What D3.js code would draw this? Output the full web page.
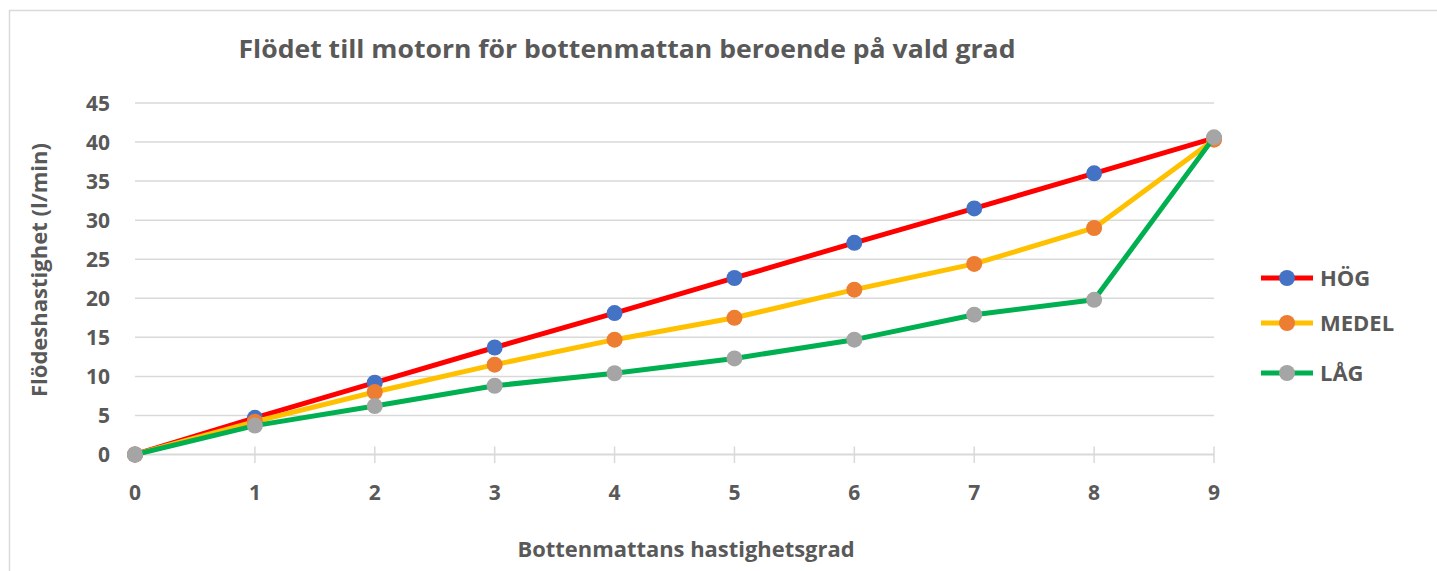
<!DOCTYPE html>
<html>
<head>
<meta charset="utf-8">
<script src="https://cdn.jsdelivr.net/npm/d3@7.9.0/dist/d3.min.js"></script>
<style>
  html, body { margin: 0; padding: 0; background: #fff; }
  svg text { font-family: "Open Sans", "DejaVu Sans", sans-serif; font-weight: 700; fill: #595959; }
</style>
</head>
<body>
<svg id="chart" width="1437" height="571"></svg>
<script>
// x categories (speed grade) and y ticks
const grades = [0, 1, 2, 3, 4, 5, 6, 7, 8, 9];
const yTicks = [0, 5, 10, 15, 20, 25, 30, 35, 40, 45];

// flow per grade (l/min)
const hog   = [0, 4.7, 9.2, 13.7, 18.1, 22.6, 27.1, 31.5, 36.0, 40.5];
const medel = [0, 4.2, 8.0, 11.5, 14.7, 17.5, 21.1, 24.4, 29.0, 40.3];
const lag   = [0, 3.7, 6.2, 8.8, 10.4, 12.3, 14.7, 17.9, 19.8, 40.6];

const seriesNames = ['HÖG', 'MEDEL', 'LÅG'];
const lineColors = ['#ff0000', '#ffc000', '#00b050'];
const markerColors = ['#4472c4', '#ed7d31', '#a5a5a5'];

const series = [hog, medel, lag].map((vals, i) => ({
    name: seriesNames[i],
    line: lineColors[i],
    marker: markerColors[i],
    values: vals.map((v, j) => ({ x: grades[j], y: v }))
}));

const svg = d3.select('#chart');

// outer chart border (Excel style)
svg.append('rect')
    .attr('x', 9.5).attr('y', 10.5)
    .attr('width', 1500).attr('height', 600)
    .attr('fill', 'none')
    .attr('stroke', '#d9d9d9')
    .attr('stroke-width', 1.5);

const x = d3.scaleLinear().domain([0, 9]).range([135, 1214]);
const y = d3.scaleLinear().domain([0, 45]).range([454.5, 103]);

// title
svg.append('text')
    .attr('x', 627).attr('y', 58)
    .attr('text-anchor', 'middle')
    .attr('font-size', 25)
    .attr('textLength', 777)
    .attr('lengthAdjust', 'spacingAndGlyphs')
    .text('Flödet till motorn för bottenmattan beroende på vald grad');

// horizontal gridlines
svg.append('g')
    .selectAll('line')
    .data(yTicks.filter(d => d > 0))
    .join('line')
    .attr('x1', x(0)).attr('x2', x(9))
    .attr('y1', d => y(d)).attr('y2', d => y(d))
    .attr('stroke', '#d9d9d9')
    .attr('stroke-width', 1.5);

// y axis labels
svg.append('g')
    .selectAll('text')
    .data(yTicks)
    .join('text')
    .attr('x', 110)
    .attr('y', d => y(d))
    .attr('dy', '0.36em')
    .attr('text-anchor', 'end')
    .attr('font-size', 21)
    .text(d => d);

// x axis line + cross ticks
const xAxisG = svg.append('g');
xAxisG.append('line')
    .attr('x1', x(0)).attr('x2', x(9))
    .attr('y1', y(0)).attr('y2', y(0))
    .attr('stroke', '#d9d9d9')
    .attr('stroke-width', 2);
xAxisG.selectAll('line.tick')
    .data(grades)
    .join('line')
    .attr('class', 'tick')
    .attr('x1', d => x(d)).attr('x2', d => x(d))
    .attr('y1', y(0) - 8).attr('y2', y(0) + 8.5)
    .attr('stroke', '#d9d9d9')
    .attr('stroke-width', 1.5);
xAxisG.selectAll('text')
    .data(grades)
    .join('text')
    .attr('x', d => x(d))
    .attr('y', 492)
    .attr('dy', '0.36em')
    .attr('text-anchor', 'middle')
    .attr('font-size', 21)
    .text(d => d);

// axis titles
svg.append('text')
    .attr('transform', 'translate(47,270) rotate(-90)')
    .attr('text-anchor', 'middle')
    .attr('font-size', 21)
    .attr('textLength', 254)
    .attr('lengthAdjust', 'spacingAndGlyphs')
    .text('Flödeshastighet (l/min)');

svg.append('text')
    .attr('x', 686).attr('y', 557)
    .attr('text-anchor', 'middle')
    .attr('font-size', 21)
    .attr('textLength', 337)
    .attr('lengthAdjust', 'spacingAndGlyphs')
    .text('Bottenmattans hastighetsgrad');

// series lines + markers
const line = d3.line().x(d => x(d.x)).y(d => y(d.y));

series.forEach(s => {
    const g = svg.append('g');
    g.append('path')
        .attr('d', line(s.values))
        .attr('fill', 'none')
        .attr('stroke', s.line)
        .attr('stroke-width', 5)
        .attr('stroke-linejoin', 'round');
    g.selectAll('circle')
        .data(s.values)
        .join('circle')
        .attr('cx', d => x(d.x))
        .attr('cy', d => y(d.y))
        .attr('r', 8)
        .attr('fill', s.marker);
});

// legend
const legendY = [278, 323, 373];
const legend = svg.append('g')
    .selectAll('g')
    .data(series)
    .join('g')
    .attr('transform', (d, i) => `translate(0,${legendY[i]})`);
legend.append('line')
    .attr('x1', 1261).attr('x2', 1313)
    .attr('stroke', d => d.line)
    .attr('stroke-width', 5);
legend.append('circle')
    .attr('cx', 1287)
    .attr('r', 8)
    .attr('fill', d => d.marker);
legend.append('text')
    .attr('x', 1320)
    .attr('dy', '0.36em')
    .attr('font-size', 22)
    .text(d => d.name);
</script>
</body>
</html>
